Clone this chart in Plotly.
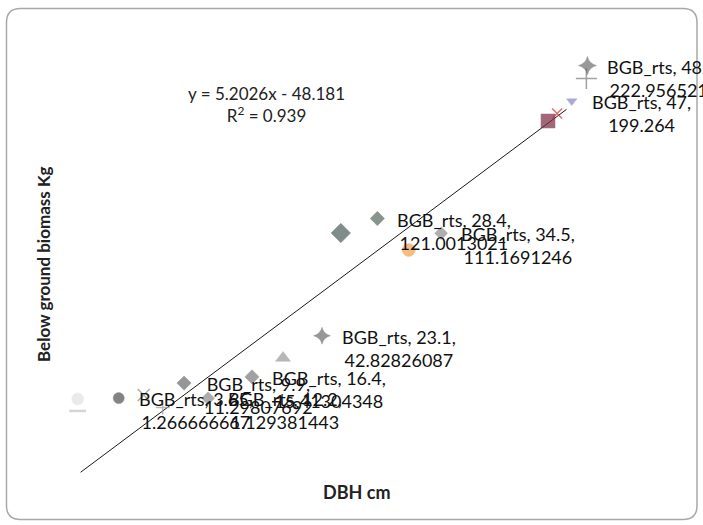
import plotly.graph_objects as go

# Labelled BGB_rts points: DBH (cm) and below-ground biomass (kg)
labeled_dbh = [48.5, 47, 28.4, 34.5, 23.1, 16.4, 12.2, 9.9, 3.65]
labeled_bgb = [222.9565217, 199.264, 121.0013021, 111.1691246, 42.82826087,
               15.41304348, 1.129381443, 11.29807692, 1.266666667]
labeled_symbols = ["star-diamond", "triangle-down", "diamond", "diamond", "star-diamond",
                   "diamond", "diamond", "diamond", "circle"]
labeled_colors = ["#6e6e6e", "#8585c8", "#56695f", "#8c8c8c", "#6a6a6a",
                  "#7a7a7a", "#8a8a8a", "#6a6a6a", "#505050"]
labeled_sizes = [13, 9, 11, 10, 12, 11, 10, 11, 11]

# Unlabelled points
other_dbh = [48.4, 44.73, 45.6, 24.9, 31.4, 19.37, 6.04, 7.86, -0.28, -0.28]
other_bgb = [214.3, 186.0, 191.0, 111.3, 100.0, 28.0, 3.3, -5.0, 0.7, -7.3]
other_symbols = ["cross-thin", "square", "x-thin", "diamond", "circle", "triangle-up",
                 "x-thin", "cross-thin", "circle", "line-ew"]
other_colors = ["#7a7a7a", "#7a2a40", "#d03232", "#4a5c58", "#f2a250", "#9a9a9a",
                "#8a8a8a", "#9a9a9a", "#e2e2e2", "#c4c4c4"]
other_sizes = [15, 14, 10, 15, 13, 13, 12, 10, 12, 12]

# Linear trendline
slope = 5.2026
intercept = -48.181
trend_x_range = [0, 46.5]

series_name = "BGB_rts"

W, H = 703, 525
ML, MR, MT, MB = 60, 53, 30, 50
PW, PH = W - ML - MR, H - MT - MB
FONT = "Lato, sans-serif"


def px_to_paper(px, py):
    return (px - ML) / PW, 1 - (py - MT) / PH


fig = go.Figure()

trend_y = [slope * x + intercept for x in trend_x_range]
fig.add_trace(go.Scatter(x=trend_x_range, y=trend_y, mode="lines",
                         line=dict(color="#1a1a1a", width=1), hoverinfo="skip"))

line_syms = {"cross-thin", "x-thin", "line-ew"}
fig.add_trace(go.Scatter(
    x=other_dbh, y=other_bgb, mode="markers",
    marker=dict(symbol=other_symbols, color=other_colors, size=other_sizes,
                line=dict(color=other_colors,
                          width=[2.5 if s == "line-ew" else (1.5 if s in line_syms else 0.5)
                                 for s in other_symbols])),
))
fig.add_trace(go.Scatter(
    x=labeled_dbh, y=labeled_bgb, mode="markers", name=series_name,
    marker=dict(symbol=labeled_symbols, color=labeled_colors, size=labeled_sizes,
                line=dict(color=labeled_colors, width=0.5)),
))

annotations = []
for x, y in zip(labeled_dbh, labeled_bgb):
    annotations.append(dict(
        x=x, y=y, xref="x", yref="y", text=f"{series_name}, {x},<br>{y}",
        showarrow=False, xanchor="left", yanchor="top", align="center",
        xshift=18, yshift=12, font=dict(family=FONT, size=18, color="#111"),
    ))

ex, ey = px_to_paper(266, 104)
annotations.append(dict(
    x=ex, y=ey, xref="paper", yref="paper", showarrow=False, align="center",
    xanchor="center", yanchor="middle",
    text=f"y = {slope}x - {abs(intercept)}<br>R<sup>2</sup> = 0.939",
    font=dict(family=FONT, size=17, color="#222"),
))

tx, ty = px_to_paper(357, 492)
annotations.append(dict(x=tx, y=ty, xref="paper", yref="paper", showarrow=False,
                        xanchor="center", yanchor="middle",
                        text="<b>DBH cm</b>",
                        font=dict(family=FONT, size=18, color="#222")))
yx, yy = px_to_paper(43, 264)
annotations.append(dict(x=yx, y=yy, xref="paper", yref="paper", showarrow=False,
                        xanchor="center", yanchor="middle",
                        text="<b>Below ground biomass Kg</b>", textangle=-90,
                        font=dict(family=FONT, size=17, color="#222")))

# Rounded chart border
x0, y0, x1, y1, r = 6.5, 8.5, 697, 519.5, 14
pts = {
    "a": px_to_paper(x0 + r, y0), "b": px_to_paper(x1 - r, y0), "c": px_to_paper(x1, y0),
    "d": px_to_paper(x1, y0 + r), "e": px_to_paper(x1, y1 - r), "f": px_to_paper(x1, y1),
    "g": px_to_paper(x1 - r, y1), "h": px_to_paper(x0 + r, y1), "i": px_to_paper(x0, y1),
    "j": px_to_paper(x0, y1 - r), "k": px_to_paper(x0, y0 + r), "l": px_to_paper(x0, y0),
}
P = lambda k: f"{pts[k][0]:.5f},{pts[k][1]:.5f}"
path = (f"M {P('a')} L {P('b')} Q {P('c')} {P('d')} L {P('e')} Q {P('f')} {P('g')} "
        f"L {P('h')} Q {P('i')} {P('j')} L {P('k')} Q {P('l')} {P('a')} Z")

x_lo = (ML - 80.6) / 10.45
x_hi = (W - MR - 80.6) / 10.45
y_hi = (400 - MT) / 1.5
y_lo = (400 - (H - MB)) / 1.5

axis_common = dict(showgrid=False, zeroline=False, showticklabels=False,
                   showline=False, ticks="")
fig.update_layout(
    width=W, height=H, margin=dict(l=ML, r=MR, t=MT, b=MB),
    paper_bgcolor="white", plot_bgcolor="white", showlegend=False,
    xaxis=dict(range=[x_lo, x_hi], **axis_common),
    yaxis=dict(range=[y_lo, y_hi], **axis_common),
    annotations=annotations,
    shapes=[dict(type="path", xref="paper", yref="paper", path=path,
                 line=dict(color="#a8a8a8", width=1.5), layer="above")],
)

fig.write_html("out.html")
